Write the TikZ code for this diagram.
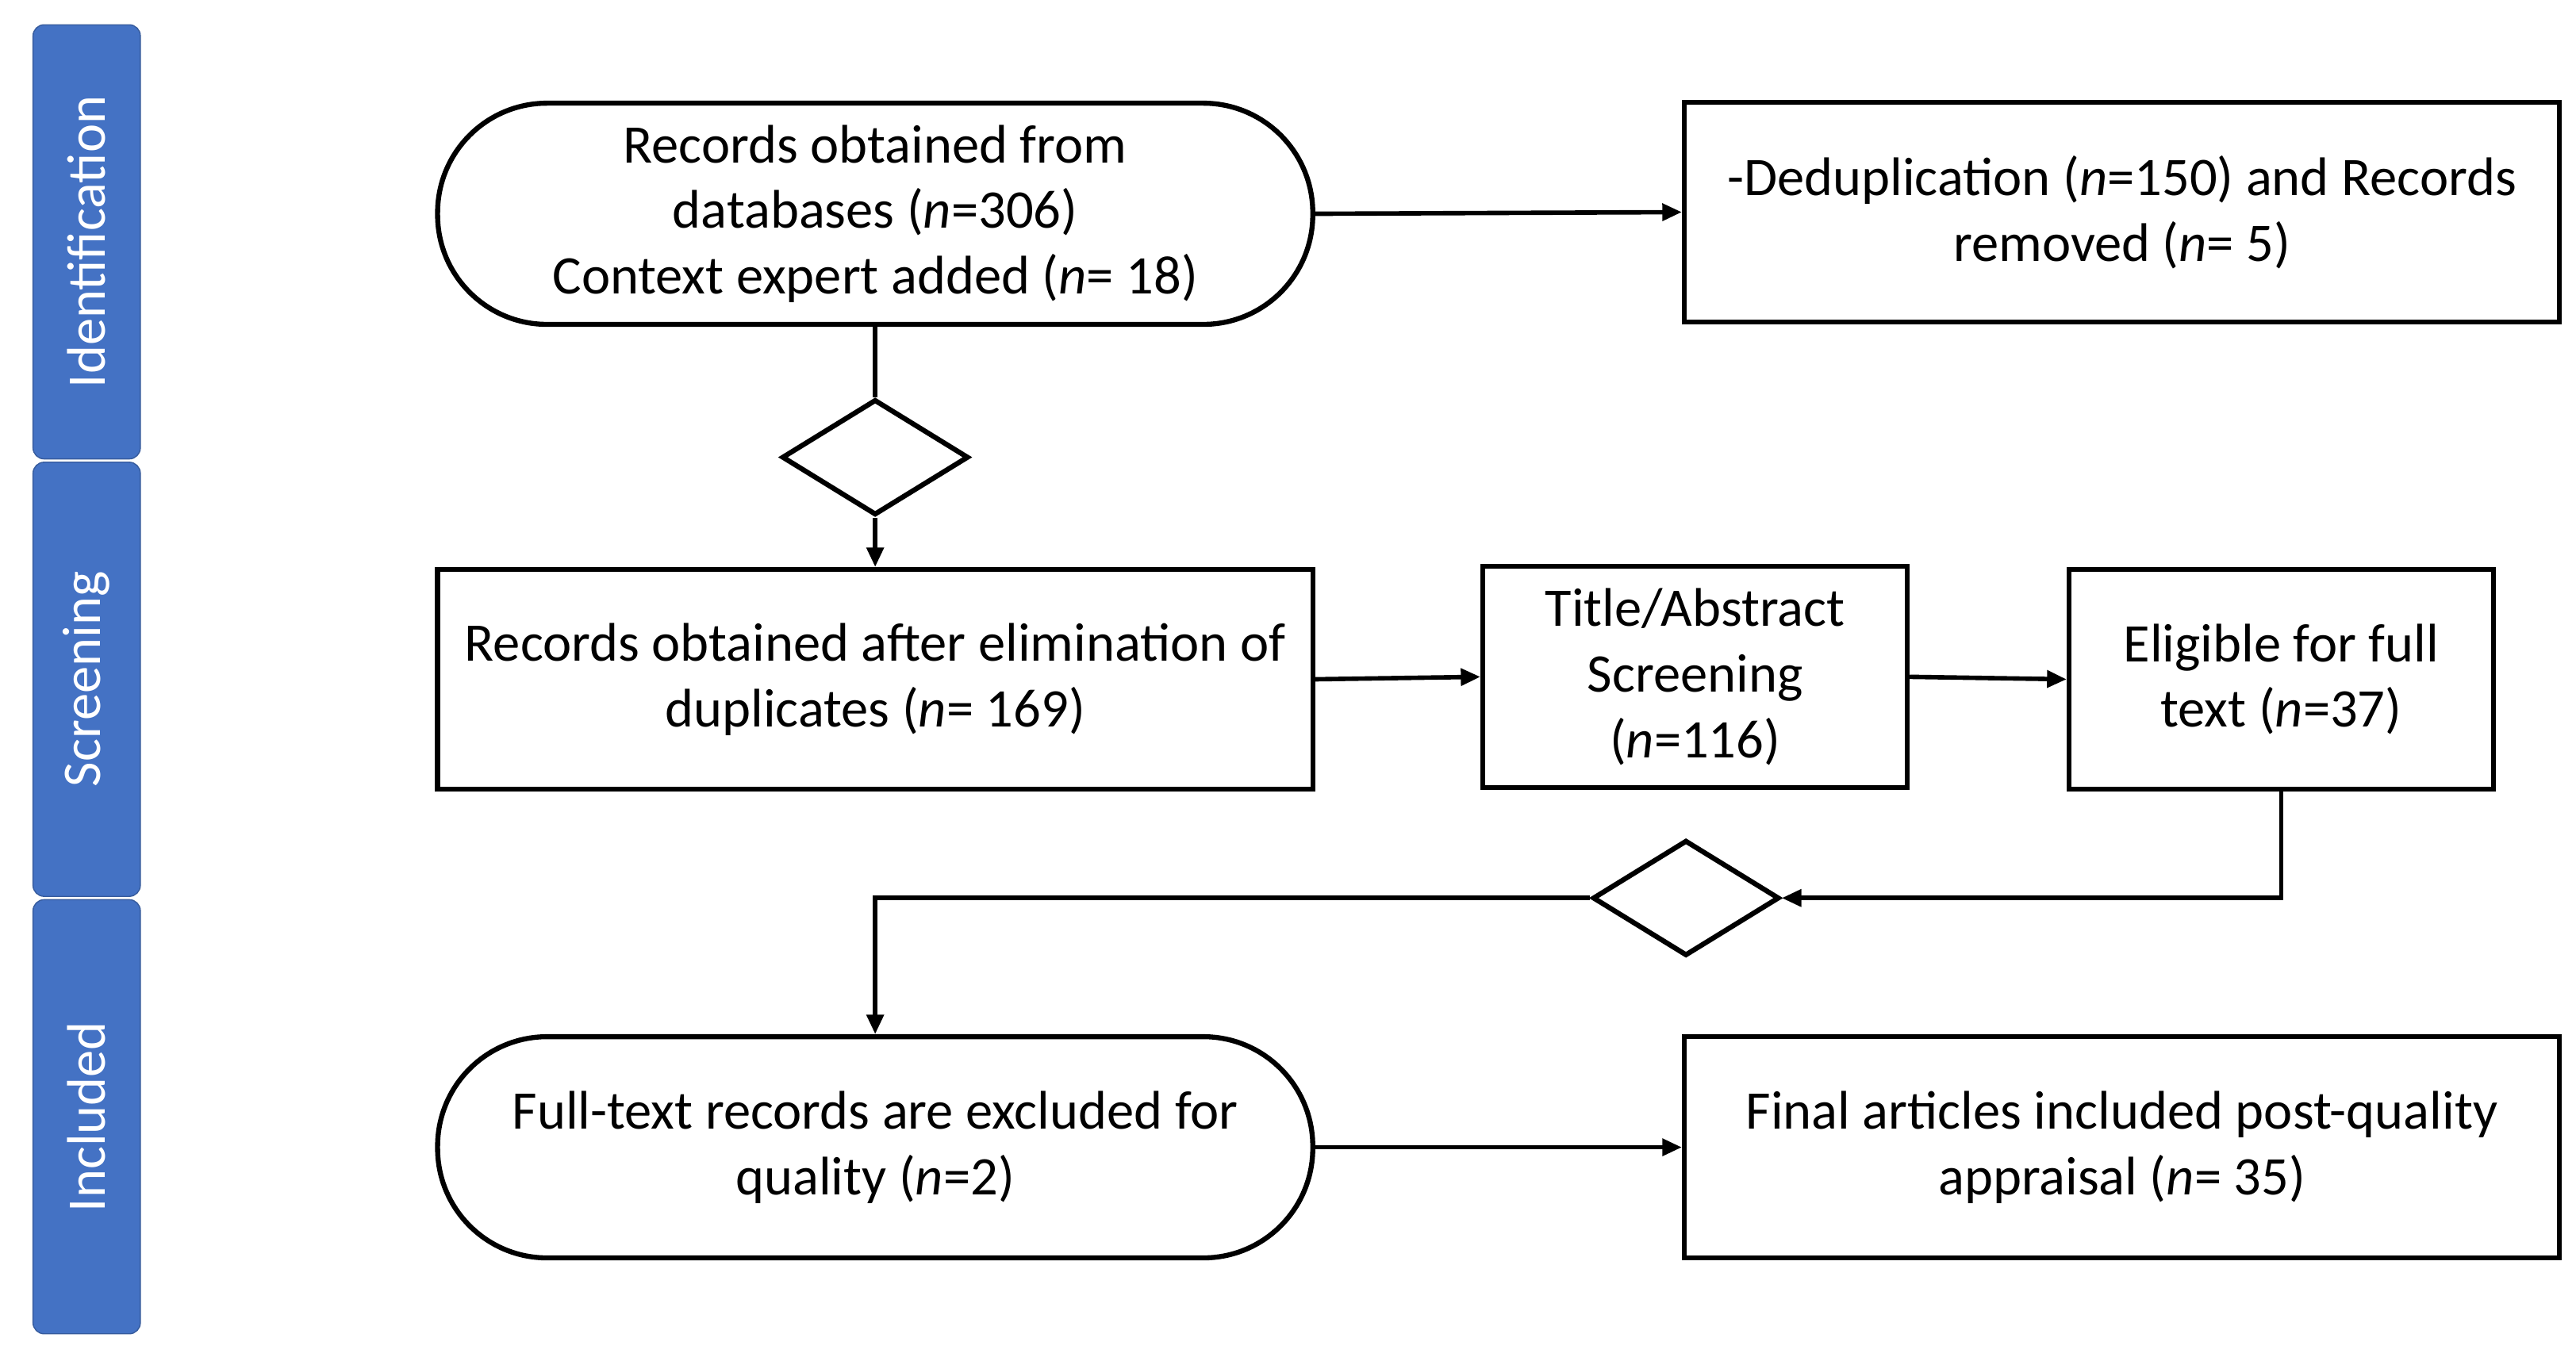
\documentclass[tikz,border=0pt]{standalone}
\usepackage{fontspec}
\setmainfont{Carlito}
\usetikzlibrary{shapes.geometric,arrows.meta}
\begin{document}
\begin{tikzpicture}[x=0.02081cm,y=-0.02081cm,
  every node/.style={font=\fontsize{19.5}{23.5}\selectfont, align=center, inner sep=0pt},
  box/.style={draw, line width=1.8pt},
  stad/.style={draw, line width=1.8pt, rounded corners=1.38cm},
  dia/.style={draw, diamond, line width=1.8pt, minimum width=113*0.02081cm, minimum height=70*0.02081cm, aspect=1.6},
  side/.style={fill=blue!50!cyan!60!black, fill=sideblue, draw=sideblue!80!black, rounded corners=4pt, text=white, rotate=90},
  ln/.style={line width=1.6pt},
  arr/.style={ln, -{Triangle[length=7pt,width=6pt]}}]
\definecolor{sideblue}{HTML}{4472C4}
\useasboundingbox (0,0) rectangle (1560,822);
% side bars
\node[side, minimum width=263*0.02081cm, minimum height=65*0.02081cm] (sid) at (52.5,146.5) {Identification};
\node[side, minimum width=263*0.02081cm, minimum height=65*0.02081cm] (ssc) at (52.5,411.5) {Screening};
\node[side, minimum width=263*0.02081cm, minimum height=65*0.02081cm] (sin) at (52.5,676.5) {Included};
% nodes
\node[stad, minimum width=530*0.02081cm, minimum height=134*0.02081cm] (rec) at (530,129.5) {Records obtained from\\databases (\textit{n}=306)\\Context expert added (\textit{n}= 18)};
\node[box, minimum width=530*0.02081cm, minimum height=133*0.02081cm] (ded) at (1285,128.5) {-Deduplication (\textit{n}=150) and Records\\removed (\textit{n}= 5)};
\node[dia] (d1) at (530,277) {};
\node[box, minimum width=530*0.02081cm, minimum height=133*0.02081cm] (aft) at (530,411.5) {Records obtained after elimination of\\duplicates (\textit{n}= 169)};
\node[box, minimum width=257*0.02081cm, minimum height=134*0.02081cm] (tit) at (1026.5,410) {Title/Abstract\\Screening\\(\textit{n}=116)};
\node[box, minimum width=257*0.02081cm, minimum height=133*0.02081cm] (eli) at (1381.5,411.5) {Eligible for full\\text (\textit{n}=37)};
\node[dia] (d2) at (1021,544) {};
\node[stad, minimum width=530*0.02081cm, minimum height=134*0.02081cm] (ful) at (530,695) {Full-text records are excluded for\\quality (\textit{n}=2)};
\node[box, minimum width=530*0.02081cm, minimum height=134*0.02081cm] (fin) at (1285,695) {Final articles included post-quality\\appraisal (\textit{n}= 35)};
% connectors
\draw[arr] (rec.east) -- (ded.west);
\draw[ln] (rec.south) -- (d1.north);
\draw[arr] (d1.south) -- (aft.north);
\draw[arr] (aft.east) -- (tit.west);
\draw[arr] (tit.east) -- (eli.west);
\draw[arr] (eli.south) |- (d2.east);
\draw[arr] (d2.west) -| (ful.north);
\draw[arr] (ful.east) -- (fin.west);
\end{tikzpicture}
\end{document}
